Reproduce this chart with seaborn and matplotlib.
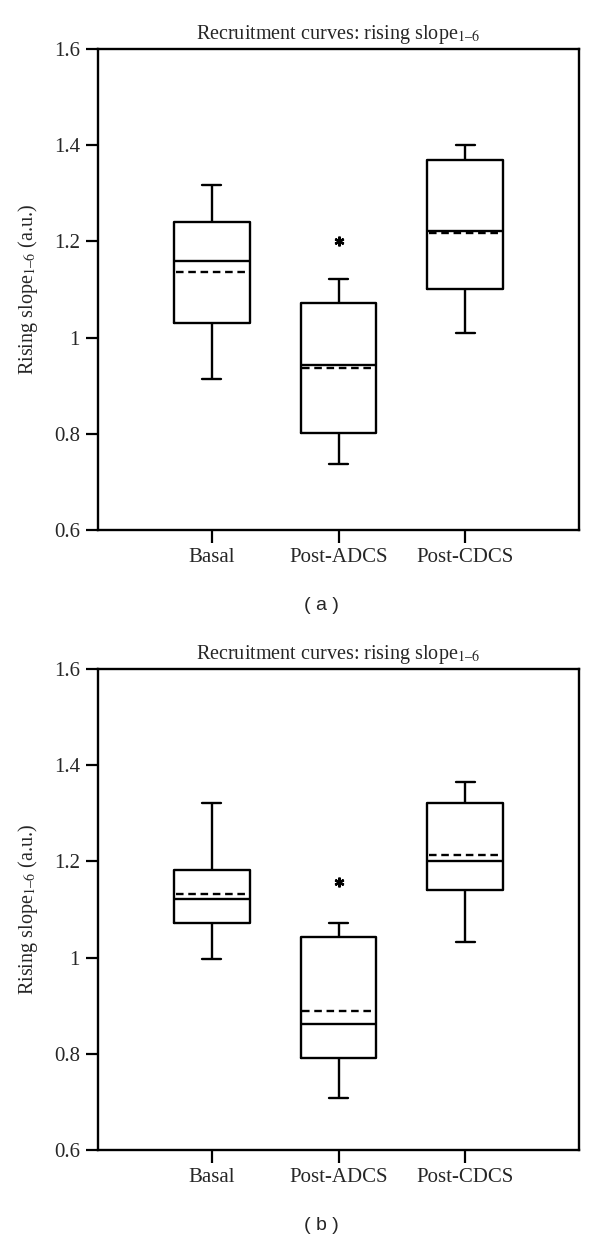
import matplotlib
matplotlib.use('Agg')
import matplotlib.pyplot as plt
import seaborn as sns
import pandas as pd
import numpy as np

groups = ['Basal', 'Post-ADCS', 'Post-CDCS']
y_ticks = [0.6, 0.8, 1.0, 1.2, 1.4, 1.6]

# panel (a): whisker low, Q1, median, Q3, whisker high, mean
a_low = [0.913, 0.737, 1.009]
a_q1 = [1.031, 0.801, 1.102]
a_med = [1.160, 0.942, 1.221]
a_q3 = [1.240, 1.071, 1.370]
a_high = [1.318, 1.121, 1.401]
a_mean = [1.137, 0.936, 1.218]
a_star = 1.200  # significance mark over Post-ADCS

# panel (b)
b_low = [0.997, 0.709, 1.033]
b_q1 = [1.071, 0.792, 1.141]
b_med = [1.122, 0.861, 1.201]
b_q3 = [1.182, 1.042, 1.321]
b_high = [1.322, 1.072, 1.365]
b_mean = [1.133, 0.890, 1.213]
b_star = 1.158

sns.set_style('ticks')
plt.rcParams['font.family'] = ['Liberation Serif', 'DejaVu Serif']
plt.rcParams['mathtext.fontset'] = 'stix'

SUB = r'$_{\mathrm{1}\text{–}\mathrm{6}}$'


def five_number_frame(low, q1, med, q3, high):
    # five values per group -> quartiles come out exactly at q1/med/q3
    rows = []
    for g, vals in zip(groups, zip(low, q1, med, q3, high)):
        for v in vals:
            rows.append({'group': g, 'value': v})
    return pd.DataFrame(rows)


def draw_panel(ax, df, means, star_y, tag):
    sns.boxplot(data=df, x='group', y='value', order=groups, ax=ax,
                fill=False, color='black', linewidth=1.7, width=0.6,
                whis=(0, 100), showfliers=False, capwidths=0.15,
                medianprops={'color': 'black', 'linewidth': 1.7})
    pos = np.arange(len(groups))
    ax.hlines(means, pos - 0.285, pos + 0.285, colors='black',
              linewidth=1.7, linestyles=(0, (3.2, 2.0)))
    ax.plot([1], [star_y], linestyle='none', marker=(6, 2, 0),
            markersize=7, markeredgewidth=1.7, color='black')

    ax.set_xlim(-0.9, 2.9)
    ax.set_ylim(0.6, 1.6)
    ax.set_yticks(y_ticks)
    ax.set_yticklabels([f'{v:g}' for v in y_ticks])
    ax.tick_params(axis='both', labelsize=15, length=9, width=1.6,
                   direction='out', pad=4, color='black')
    ax.set_xlabel('')
    ax.set_ylabel('Rising slope' + SUB + ' (a.u.)', fontsize=14.5)
    ax.yaxis.set_label_coords(-0.12, 0.5)
    ax.set_title('Recruitment curves: rising slope' + SUB,
                 fontsize=14.5, pad=7)
    for s in ax.spines.values():
        s.set_visible(True)
        s.set_linewidth(1.7)
        s.set_color('black')
    ax.text(0.465, -0.156, tag, transform=ax.transAxes, ha='center',
            va='center', fontsize=14, family='Liberation Sans')


fig = plt.figure(figsize=(6, 12.41), dpi=100)
ax_a = fig.add_axes([98 / 600, 1 - 530 / 1241, 481 / 600, 481 / 1241])
ax_b = fig.add_axes([98 / 600, 1 - 1150 / 1241, 481 / 600, 481 / 1241])

draw_panel(ax_a, five_number_frame(a_low, a_q1, a_med, a_q3, a_high),
           a_mean, a_star, '( a )')
draw_panel(ax_b, five_number_frame(b_low, b_q1, b_med, b_q3, b_high),
           b_mean, b_star, '( b )')

fig.savefig('out.png', dpi=100, facecolor='white')
